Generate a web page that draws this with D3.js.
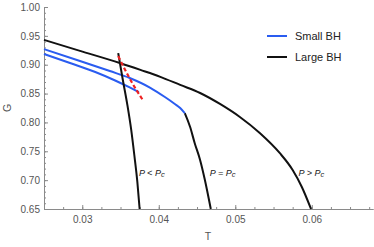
<!DOCTYPE html>
<html>
<head>
<meta charset="utf-8">
<script src="https://cdn.jsdelivr.net/npm/d3@7"></script>
<style>
  body { margin: 0; background: #fff; }
  svg { display: block; font-family: "Liberation Sans", Arial, sans-serif; }
</style>
</head>
<body>
<svg id="chart"></svg>
<script>
// tick labels
var tTicks = [0.03, 0.04, 0.05, 0.06]
var gTicks = [0.65, 0.70, 0.75, 0.80, 0.85, 0.90, 0.95, 1.00]

// P > Pc, large BH branch
var highT = [0.025, 0.0297, 0.0349, 0.0376, 0.0402, 0.0428, 0.0454, 0.048, 0.0506, 0.0532, 0.0558, 0.0575, 0.0587, 0.0599]
var highG = [0.943, 0.924, 0.903, 0.891, 0.879, 0.865, 0.851, 0.832, 0.8094, 0.7817, 0.7471, 0.7176, 0.6881, 0.65]

// P = Pc, small BH branch then large BH branch
var critSmallT = [0.025, 0.0297, 0.0336, 0.0362, 0.0389, 0.0408, 0.0421, 0.0428, 0.0434]
var critSmallG = [0.927, 0.9065, 0.889, 0.877, 0.860, 0.844, 0.832, 0.825, 0.816]
var critLargeT = [0.0434, 0.0441, 0.0447, 0.0454, 0.046, 0.0468]
var critLargeG = [0.816, 0.792, 0.764, 0.735, 0.702, 0.65]

// P < Pc, small, unstable and large BH branches
var lowSmallT = [0.025, 0.0284, 0.0317, 0.0343, 0.0362, 0.0374]
var lowSmallG = [0.9186, 0.903, 0.8874, 0.8727, 0.8606, 0.8525]
var lowMidT = [0.0347, 0.0362, 0.0379]
var lowMidG = [0.915, 0.876, 0.839]
var lowLargeT = [0.0347, 0.0353, 0.0359, 0.0364, 0.0368, 0.0372, 0.0375]
var lowLargeG = [0.920, 0.874, 0.830, 0.787, 0.744, 0.697, 0.65]

// legend
var legendNames = ["Small BH", "Large BH"]
var legendColors = ["#2a5cf0", "#111111"]

var dimensions = {
    width: 374,
    height: 247,
    margin: { top: 7, bottom: 38, right: 1, left: 44 }
}

var svg = d3.select("#chart")
    .attr("width", dimensions.width)
    .attr("height", dimensions.height)

var xScale = d3.scaleLinear()
    .domain([0.025, 0.068])
    .range([dimensions.margin.left, dimensions.width - dimensions.margin.right])

var yScale = d3.scaleLinear()
    .domain([0.65, 1.00])
    .range([dimensions.height - dimensions.margin.bottom, dimensions.margin.top])

var zip = (ts, gs) => ts.map((t, i) => [t, gs[i]])

var line = d3.line()
    .x(d => xScale(d[0]))
    .y(d => yScale(d[1]))
    .curve(d3.curveMonotoneX)

var axisColor = "#8a8a8a"
var labelColor = "#555"

// minor ticks
var xMinor = d3.axisBottom(xScale)
    .tickValues(d3.range(0.025, 0.0681, 0.0025))
    .tickSize(-2).tickSizeOuter(0).tickFormat("")
var yMinor = d3.axisLeft(yScale)
    .tickValues(d3.range(0.65, 1.0001, 0.01))
    .tickSize(-2).tickSizeOuter(0).tickFormat("")

svg.append("g")
    .attr("transform", `translate(0,${yScale(0.65)})`)
    .call(xMinor)
svg.append("g")
    .attr("transform", `translate(${xScale(0.025)},0)`)
    .call(yMinor)

var xAxis = svg.append("g")
    .attr("transform", `translate(0,${yScale(0.65)})`)
    .call(d3.axisBottom(xScale).tickValues(tTicks).tickSize(-4).tickSizeOuter(0)
        .tickPadding(7).tickFormat(d3.format(".2f")))

var yAxis = svg.append("g")
    .attr("transform", `translate(${xScale(0.025)},0)`)
    .call(d3.axisLeft(yScale).tickValues(gTicks).tickSize(-4).tickSizeOuter(0)
        .tickPadding(4).tickFormat(d3.format(".2f")))

svg.selectAll(".domain, .tick line").attr("stroke", axisColor)
svg.selectAll(".tick text").attr("fill", labelColor).style("font-size", "10px")

// axis titles
svg.append("text")
    .attr("x", 208).attr("y", 240)
    .attr("text-anchor", "middle")
    .style("font-size", "10.5px").attr("fill", labelColor)
    .text("T")
svg.append("text")
    .attr("transform", "translate(11,108) rotate(-90)")
    .attr("text-anchor", "middle")
    .style("font-size", "10.5px").attr("fill", labelColor)
    .text("G")

// curves
function drawCurve(ts, gs, color, dash, w) {
    svg.append("path")
        .datum(zip(ts, gs))
        .attr("d", line)
        .style("fill", "none")
        .style("stroke", color)
        .style("stroke-width", w || 2)
        .style("stroke-dasharray", dash || null)
}

drawCurve(highT, highG, legendColors[1])
drawCurve(critLargeT, critLargeG, legendColors[1])
drawCurve(critSmallT, critSmallG, legendColors[0])
drawCurve(lowSmallT, lowSmallG, legendColors[0])
drawCurve(lowLargeT, lowLargeG, legendColors[1])
drawCurve(lowMidT, lowMidG, "#ee2222", "4,2.5", 2.2)

// curve labels
var curveLabels = [
    { t: 0.03715, g: 0.708, rel: "<" },
    { t: 0.0464, g: 0.708, rel: "=" },
    { t: 0.0580, g: 0.708, rel: ">" }
]
curveLabels.forEach(function (c) {
    var txt = svg.append("text")
        .attr("x", xScale(c.t) + 2)
        .attr("y", yScale(c.g))
        .style("font-size", "9px")
        .style("font-style", "italic")
        .attr("fill", "#222")
    txt.append("tspan").text("P " + c.rel + " P")
    txt.append("tspan").attr("dy", 1.5).style("font-size", "7.5px").text("c")
})

// legend
var legend = svg.append("g").attr("transform", "translate(267,36)")
legendNames.forEach(function (name, i) {
    legend.append("line")
        .attr("x1", 0).attr("x2", 20)
        .attr("y1", i * 21).attr("y2", i * 21)
        .style("stroke", legendColors[i]).style("stroke-width", 2)
    legend.append("text")
        .attr("x", 28).attr("y", i * 21 + 4)
        .style("font-size", "11px").attr("fill", "#222")
        .text(name)
})
</script>
</body>
</html>
